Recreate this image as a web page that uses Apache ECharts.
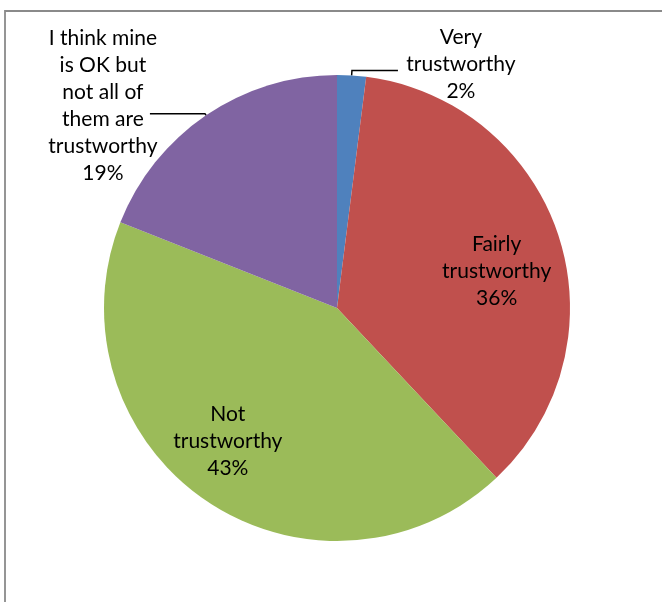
<!DOCTYPE html>
<html>
<head>
<meta charset="utf-8">
<script src="https://cdn.jsdelivr.net/npm/echarts@6/dist/echarts.min.js"></script>
<style>
html,body{margin:0;padding:0;background:#fff;}
#chart{width:662px;height:602px;}
</style>
</head>
<body>
<div id="chart"></div>
<script>
const categories = ['Very trustworthy', 'Fairly trustworthy', 'Not trustworthy', 'I think mine is OK but not all of them are trustworthy'];
const labelLines = [['Very', 'trustworthy'], ['Fairly', 'trustworthy'], ['Not', 'trustworthy'], ['I think mine', 'is OK but', 'not all of', 'them are', 'trustworthy']];
const values = [2, 36, 43, 19];
const colors = ['#4F81BD', '#C0504D', '#9BBB59', '#8064A2'];

const FONT = 'Lato';
const FS = 21;
const LH = 27;

function richLabel(i) {
  const lines = labelLines[i].concat([values[i] + '%']);
  return lines.map(l => '{c|' + l + '}').join('\n');
}

const outsideStyle = {
  show: true,
  position: 'outside',
  formatter: p => richLabel(p.dataIndex),
  distanceToLabelLine: 3,
  rich: { c: { fontFamily: FONT, fontSize: FS, lineHeight: LH, color: '#000', width: 120, align: 'center' } }
};
const insideStyle = {
  show: true,
  position: 'inside',
  formatter: p => richLabel(p.dataIndex),
  rich: { c: { fontFamily: FONT, fontSize: FS, lineHeight: LH, color: '#000', align: 'center' } }
};

const labelOffsets = [
  { dy: -6 },
  { dx: 46, dy: 0 },
  { dx: -42, dy: 34 },
  { dx: 16, dy: -8 }
];

const data = categories.map((name, i) => {
  const outside = (i === 0 || i === 3);
  return {
    name: name,
    value: values[i],
    itemStyle: { color: colors[i] },
    label: outside ? outsideStyle : insideStyle,
    labelLine: outside ? {
      show: true,
      length: i === 0 ? 5 : 2,
      length2: i === 0 ? 46 : 55,
      lineStyle: { color: '#000', width: 1.5 }
    } : { show: false }
  };
});

const chart = echarts.init(document.getElementById('chart'), null, { renderer: 'canvas' });
chart.setOption({
  animation: false,
  backgroundColor: '#fff',
  graphic: [{
    type: 'rect',
    shape: { x: 5, y: 11, width: 800, height: 800 },
    style: { fill: 'none', stroke: '#8a8a8a', lineWidth: 1.8 },
    silent: true
  }],
  series: [{
    type: 'pie',
    center: [337, 308],
    radius: [0, 233],
    startAngle: 90,
    clockwise: true,
    avoidLabelOverlap: false,
    data: data,
    labelLayout: function (params) {
      return labelOffsets[params.dataIndex];
    },
    emphasis: { disabled: true }
  }]
});
</script>
</body>
</html>
